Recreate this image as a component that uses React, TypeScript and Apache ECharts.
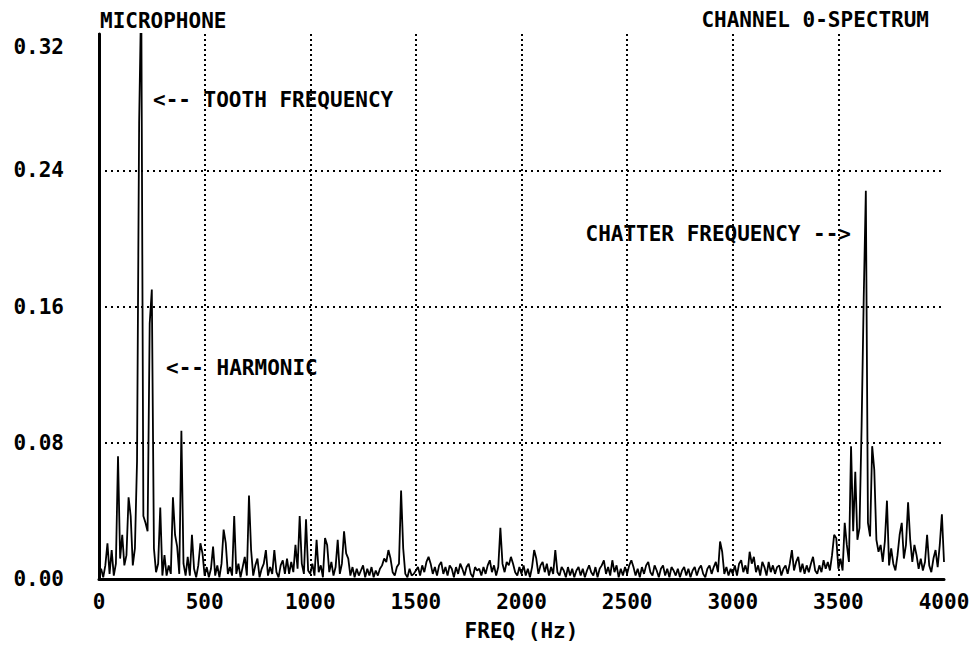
import React, { useEffect, useRef } from "react";
import * as echarts from "echarts";

// Spectrum amplitudes, one value per 10 Hz bin, in thousandths of full scale.
const BIN_HZ = 10;

const band0to990 = [
  2, 6, 1, 8, 21, 3, 17, 2, 9, 72,
  12, 26, 8, 14, 48, 37, 8, 18, 69, 268,
  345, 37, 33, 28, 150, 170, 18, 4, 9, 42,
  2, 14, 2, 8, 3, 48, 26, 19, 3, 87,
  9, 2, 13, 2, 26, 6, 1, 8, 21, 15,
  2, 7, 1, 6, 19, 2, 8, 1, 9, 29,
  21, 3, 7, 2, 37, 3, 9, 1, 7, 13,
  2, 49, 17, 2, 8, 12, 1, 6, 9, 17,
  2, 7, 3, 17, 4, 1, 8, 11, 3, 12,
  3, 10, 4, 20, 6, 37, 9, 3, 35, 5,
];

const band1000to1990 = [
  3, 9, 2, 23, 4, 8, 1, 24, 20, 4,
  10, 2, 7, 23, 3, 9, 28, 15, 12, 2,
  7, 1, 6, 2, 5, 8, 1, 6, 2, 7,
  1, 5, 2, 6, 8, 12, 10, 17, 12, 4,
  2, 7, 9, 52, 18, 3, 1, 6, 2, 3,
  5, 7, 2, 8, 4, 10, 13, 9, 3, 7,
  2, 8, 10, 3, 7, 2, 8, 6, 1, 7,
  3, 9, 6, 2, 7, 9, 3, 1, 7, 5,
  6, 2, 7, 3, 8, 11, 4, 8, 2, 7,
  30, 9, 4, 10, 8, 13, 9, 4, 2, 7,
];

const band2000to2990 = [
  3, 8, 2, 6, 1, 7, 17, 12, 3, 8,
  10, 4, 9, 2, 7, 3, 17, 4, 2, 7,
  5, 1, 7, 2, 6, 1, 5, 7, 2, 6,
  1, 5, 8, 4, 2, 7, 1, 6, 8, 11,
  3, 7, 2, 11, 4, 8, 1, 6, 2, 7,
  3, 8, 11, 7, 2, 6, 1, 7, 3, 8,
  10, 4, 2, 8, 5, 1, 6, 8, 2, 6,
  1, 7, 5, 2, 6, 1, 5, 7, 2, 6,
  1, 5, 7, 2, 6, 8, 3, 1, 6, 8,
  3, 7, 10, 4, 22, 16, 3, 7, 2, 6,
];

const band3000to4000 = [
  3, 8, 2, 9, 11, 4, 8, 3, 16, 9,
  13, 4, 8, 2, 10, 7, 2, 10, 4, 8,
  3, 7, 8, 2, 6, 8, 3, 9, 17, 5,
  10, 13, 4, 9, 3, 8, 4, 9, 13, 5,
  3, 8, 4, 11, 6, 10, 5, 14, 26, 24,
  6, 12, 5, 33, 20, 10, 78, 28, 63, 23,
  30, 90, 165, 228, 33, 25, 78, 64, 23, 16,
  20, 10, 22, 46, 8, 18, 9, 5, 14, 26,
  33, 12, 20, 45, 23, 10, 20, 14, 6, 12,
  5, 10, 26, 8, 4, 12, 17, 7, 20, 38,
  10,
];

const freqTicks = [0, 500, 1000, 1500, 2000, 2500, 3000, 3500, 4000];
const ampTicks = [0, 0.08, 0.16, 0.24, 0.32];

const FONT = '"DejaVu Sans Mono", "Liberation Mono", monospace';
const INK = "#000";

export default function App() {
  const ref = useRef<HTMLDivElement>(null);

  useEffect(() => {
    if (!ref.current) return;
    const chart = echarts.init(ref.current, undefined, { renderer: "svg" });

    const amps = [...band0to990, ...band1000to1990, ...band2000to2990, ...band3000to4000];
    const spectrum = amps.map((a, i) => [i * BIN_HZ, a / 1000]);

    const fMin = freqTicks[0];
    const fMax = freqTicks[freqTicks.length - 1];
    const fStep = freqTicks[1] - freqTicks[0];
    const aMin = ampTicks[0];
    const aMax = ampTicks[ampTicks.length - 1];
    const aStep = ampTicks[1] - ampTicks[0];

    const labelFont = { fontFamily: FONT, fontWeight: "bold" as const, fontSize: 21, color: INK };

    const textEl = (text: string, x: number, y: number, align: "left" | "right" | "center") => ({
      type: "text",
      x,
      y,
      style: {
        text,
        fill: INK,
        fontFamily: FONT,
        fontWeight: "bold",
        fontSize: 21,
        align,
        verticalAlign: "middle",
      },
    });

    chart.setOption({
      animation: false,
      backgroundColor: "#fff",
      grid: { left: 99, right: 30, top: 34, bottom: 59 },
      xAxis: [
        {
          type: "value",
          min: fMin,
          max: fMax,
          interval: fStep,
          axisLine: { show: true, lineStyle: { color: INK, width: 3 } },
          axisTick: { show: false },
          axisLabel: { ...labelFont, margin: 12, formatter: (v: number) => String(Math.round(v)) },
          splitLine: {
            show: true,
            showMinLine: false,
            showMaxLine: false,
            lineStyle: { color: INK, width: 2, type: [2, 3] },
          },
          name: "FREQ (Hz)",
          nameLocation: "middle",
          nameGap: 41,
          nameTextStyle: { ...labelFont },
        },
        {
          type: "value",
          position: "top",
          min: fMin,
          max: fMax,
          axisLine: { show: true, lineStyle: { color: INK, width: 1.5 } },
          axisTick: { show: false },
          axisLabel: { show: false },
          splitLine: { show: false },
        },
      ],
      yAxis: [
        {
          type: "value",
          min: aMin,
          max: aMax,
          interval: aStep,
          axisLine: { show: true, lineStyle: { color: INK, width: 2 } },
          axisTick: { show: false },
          axisLabel: {
            ...labelFont,
            margin: 35,
            formatter: (v: number) =>
              Math.abs(v - aMax) < 1e-9 ? `{top|${v.toFixed(2)}}` : v.toFixed(2),
            rich: {
              top: { ...labelFont, padding: [26, 0, 0, 0] },
            },
          },
          splitLine: {
            show: true,
            showMinLine: false,
            showMaxLine: false,
            lineStyle: { color: INK, width: 2, type: [2, 4] },
          },
        },
        {
          type: "value",
          position: "right",
          min: aMin,
          max: aMax,
          axisLine: { show: true, lineStyle: { color: INK, width: 3 } },
          axisTick: { show: false },
          axisLabel: { show: false },
          splitLine: { show: false },
        },
      ],
      series: [
        {
          type: "line",
          xAxisIndex: 0,
          yAxisIndex: 0,
          data: spectrum,
          showSymbol: false,
          clip: true,
          lineStyle: { color: INK, width: 1.8 },
          z: 3,
        },
      ],
      graphic: [
        textEl("MICROPHONE", 100, 21, "left"),
        textEl("CHANNEL 0-SPECTRUM", 929, 20, "right"),
        textEl("<-- TOOTH FREQUENCY", 153, 100, "left"),
        textEl("<-- HARMONIC", 166, 368, "left"),
        textEl("CHATTER FREQUENCY -->", 851, 234, "right"),
      ],
    });

    return () => chart.dispose();
  }, []);

  return (
    <div
      ref={ref}
      style={{ position: "fixed", left: 0, top: 0, width: 974, height: 646, background: "#fff" }}
    />
  );
}
